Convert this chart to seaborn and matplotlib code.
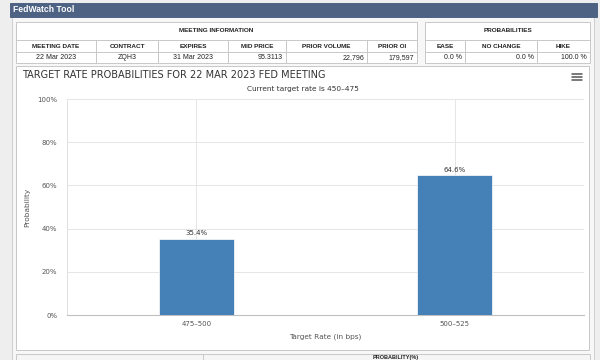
import matplotlib
matplotlib.use('Agg')
import matplotlib.pyplot as plt
from matplotlib.patches import Rectangle
from matplotlib.lines import Line2D
from matplotlib.ticker import FuncFormatter
import seaborn as sns
import pandas as pd

# chart data
rates = ['475–500', '500–525']
probs = [35.4, 64.6]

# meeting information table
meet_cols = ['MEETING DATE', 'CONTRACT', 'EXPIRES', 'MID PRICE', 'PRIOR VOLUME', 'PRIOR OI']
meet_vals = ['22 Mar 2023', 'ZQH3', '31 Mar 2023', '95.3113', '22,796', '179,597']
# probabilities table
prob_cols = ['EASE', 'NO CHANGE', 'HIKE']
prob_vals = ['0.0 %', '0.0 %', '100.0 %']

W, H = 600, 360
sns.set_theme(style='white')
plt.rcParams['font.family'] = ['DejaVu Sans']

fig = plt.figure(figsize=(6, 3.6), dpi=100, facecolor='#eeeeee')


def rect(x0, y0, x1, y1, fc, ec='#c8c8c8', lw=0.7, z=0):
    fig.patches.append(Rectangle((x0 / W, 1 - y1 / H), (x1 - x0) / W, (y1 - y0) / H,
                                 transform=fig.transFigure, facecolor=fc,
                                 edgecolor=ec, lw=lw, zorder=z))


def line(x0, y0, x1, y1, c='#c8c8c8', lw=0.7, z=1):
    fig.lines.append(Line2D([x0 / W, x1 / W], [1 - y0 / H, 1 - y1 / H],
                            transform=fig.transFigure, color=c, lw=lw, zorder=z))


def txt(x, y, s, **kw):
    kw.setdefault('va', 'center')
    fig.text(x / W, 1 - y / H, s, **kw)


# page frame and header bar
rect(12, 16, 594, 362, '#f7f7f7', ec='#cfcfcf')
rect(10, 3, 597, 17, '#4e6384', ec='#4e6384')
txt(13, 10, 'FedWatch Tool', color='white', fontsize=6.2, fontweight='bold',
    family=['Liberation Sans'])

# meeting information table
mx = [16, 96, 158, 228, 286, 367, 417]
rect(16, 22, 417, 63, 'white')
line(16, 40, 417, 40)
line(16, 52, 417, 52)
for x in mx[1:-1]:
    line(x, 40, x, 63)
txt((mx[0] + mx[-1]) / 2, 31, 'MEETING INFORMATION', ha='center', fontsize=4.6,
    fontweight='bold', color='#222', family=['Liberation Sans'])
for i, (c, v) in enumerate(zip(meet_cols, meet_vals)):
    txt((mx[i] + mx[i + 1]) / 2, 46, c, ha='center', fontsize=4.6, fontweight='bold',
        color='#222', family=['Liberation Sans'])
    if i < 3:
        txt((mx[i] + mx[i + 1]) / 2, 57.5, v, ha='center', fontsize=5, color='#222',
            family=['Liberation Sans'])
    else:
        txt(mx[i + 1] - 3, 57.5, v, ha='right', fontsize=5, color='#222',
            family=['Liberation Sans'])

# probabilities table
px_ = [425, 465, 537, 590]
rect(425, 22, 590, 63, 'white')
line(425, 40, 590, 40)
line(425, 52, 590, 52)
for x in px_[1:-1]:
    line(x, 40, x, 63)
txt((px_[0] + px_[-1]) / 2, 31, 'PROBABILITIES', ha='center', fontsize=4.6,
    fontweight='bold', color='#222', family=['Liberation Sans'])
for i, (c, v) in enumerate(zip(prob_cols, prob_vals)):
    txt((px_[i] + px_[i + 1]) / 2, 46, c, ha='center', fontsize=4.6, fontweight='bold',
        color='#222', family=['Liberation Sans'])
    txt(px_[i + 1] - 3, 57.5, v, ha='right', fontsize=5, color='#222',
        family=['Liberation Sans'])

# chart panel
rect(16, 66, 589, 350, 'white', ec='#c8c8c8')
txt(22, 75, 'TARGET RATE PROBABILITIES FOR 22 MAR 2023 FED MEETING', ha='left',
    fontsize=7.0, color='#333')
txt(303, 89, 'Current target rate is 450–475', ha='center', fontsize=5.3, color='#333')
for yy in (74, 77, 80):
    line(572, yy, 582, yy, c='#555', lw=1.1, z=3)

# bottom panel (mostly below the visible area)
rect(16, 354, 590, 372, '#f5f5f5', ec='#c8c8c8')
line(203, 354, 203, 372)
txt(396, 355, 'PROBABILITY(%)', ha='center', va='top', fontsize=4.0,
    fontweight='bold', color='#222', family=['Liberation Sans'])

# bar chart
ax = fig.add_axes([67 / W, 1 - 315 / H, (584 - 67) / W, (315 - 99) / H])
ax.set_zorder(5)
df = pd.DataFrame({'Target Rate': rates, 'Probability': probs})
sns.barplot(data=df, x='Target Rate', y='Probability', color='#4580b6', width=0.29,
            saturation=1, edgecolor='white', linewidth=0.5, ax=ax, zorder=3)
ax.set_xlim(-0.5, 1.5)
ax.set_ylim(0, 100)
ax.set_yticks(range(0, 101, 20))
ax.yaxis.set_major_formatter(FuncFormatter(lambda v, p: f'{int(v)}%'))
ax.grid(True, color='#e6e6e6', lw=0.7, zorder=0)
ax.set_axisbelow(True)
for s in ('top', 'right'):
    ax.spines[s].set_visible(False)
ax.spines['left'].set_color('#e0e0e0')
ax.spines['left'].set_linewidth(0.7)
ax.spines['bottom'].set_color('#c0c0c0')
ax.spines['bottom'].set_linewidth(0.8)
ax.tick_params(axis='both', length=0, labelsize=5, labelcolor='#555')
ax.tick_params(axis='y', pad=7)
ax.tick_params(axis='x', pad=4)
ax.set_xlabel('Target Rate (in bps)', fontsize=5.3, color='#555', labelpad=5)
ax.set_ylabel('Probability', fontsize=5.3, color='#555', labelpad=5)
for c in ax.containers:
    ax.bar_label(c, fmt='%.1f%%', padding=2, fontsize=5, color='#333')

fig.savefig('out.png', dpi=100, facecolor=fig.get_facecolor())
